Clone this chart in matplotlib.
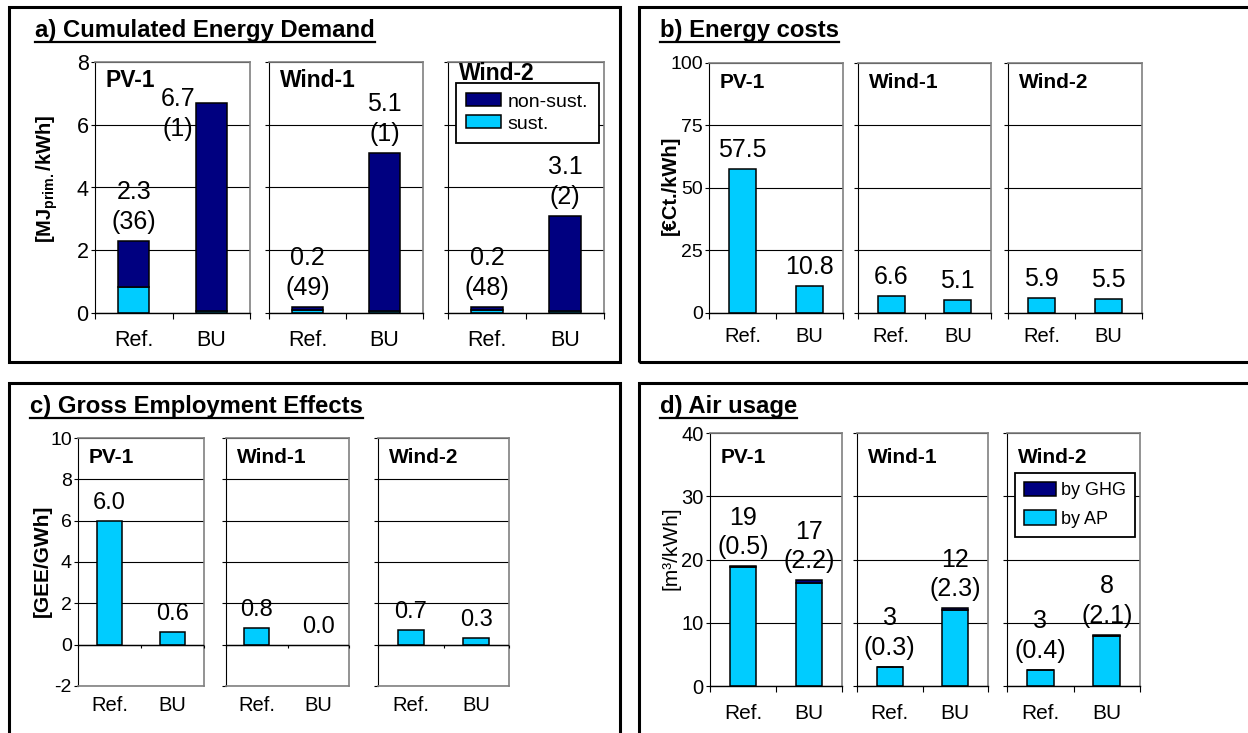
import matplotlib
matplotlib.use('Agg')
import matplotlib.pyplot as plt
from matplotlib.patches import Rectangle, Patch
from matplotlib.lines import Line2D

plt.rcParams['font.family'] = ['Liberation Sans', 'DejaVu Sans']
plt.rcParams['mathtext.fontset'] = 'custom'
plt.rcParams['mathtext.rm'] = 'Liberation Sans'
plt.rcParams['mathtext.bf'] = 'Liberation Sans:bold'
plt.rcParams['axes.unicode_minus'] = False

W, H = 1248, 733

# data: one row per plant, columns Ref. / BU
plants = ['PV-1', 'Wind-1', 'Wind-2']
cases = ['Ref.', 'BU']

ced_total = [[2.3, 6.7], [0.2, 5.1], [0.2, 3.1]]      # MJ_prim./kWh
ced_sust_pct = [[36, 1], [49, 1], [48, 2]]            # share sustainable in %
cost = [[57.5, 10.8], [6.6, 5.1], [5.9, 5.5]]         # EUR-Ct./kWh
gee = [[6.0, 0.6], [0.8, 0.0], [0.7, 0.3]]            # GEE/GWh
air_total = [[18.9, 16.7], [3.0, 12.3], [2.6, 8.1]]   # m3/kWh
air_ghg_pct = [[0.5, 2.2], [0.3, 2.3], [0.4, 2.1]]    # share by GHG in %

CYAN = '#00CCFF'
NAVY = '#000080'
GREY = '#808080'

fig = plt.figure(figsize=(W / 100, H / 100), dpi=100)


def px_axes(l, t, r, b):
    return fig.add_axes([l / W, 1 - b / H, (r - l) / W, (b - t) / H])


def frame(l, t, r, b):
    fig.add_artist(Rectangle((l / W, 1 - b / H), (r - l) / W, (b - t) / H,
                             transform=fig.transFigure, fill=False,
                             edgecolor='black', lw=2.2))


def title(x, y, s, fs):
    t = fig.text(x / W, 1 - y / H, s, fontsize=fs, fontweight='bold',
                 ha='left', va='baseline')
    fig.canvas.draw()
    bb = t.get_window_extent(fig.canvas.get_renderer())
    fig.add_artist(Line2D([bb.x0 / W, bb.x1 / W], [1 - (y + 5) / H] * 2,
                          transform=fig.transFigure, color='black', lw=1.6))


def make_axes(xs, top, bot, ylim, yticks, tick_fs, x_fs, x_pad, name_fs,
              name_dy, zero_inside=False):
    axes = []
    for i, (l, r) in enumerate(xs):
        ax = px_axes(l, top, r, bot)
        ax.set_xlim(-0.5, 1.5)
        ax.set_ylim(*ylim)
        ax.set_yticks(yticks)
        ax.set_axisbelow(True)
        ax.yaxis.grid(True, color='black', lw=0.8)
        for s in ('top', 'right'):
            ax.spines[s].set_color(GREY)
            ax.spines[s].set_linewidth(1.2)
        ax.spines['left'].set_color('black')
        ax.spines['left'].set_linewidth(0.8)
        ax.tick_params(axis='y', direction='out', length=3, width=0.8,
                       pad=1.5, labelsize=tick_fs, labelleft=(i == 0))
        # category labels sit between the tick marks
        ax.set_xticks([-0.5, 0.5, 1.5])
        ax.set_xticks([0, 1], minor=True)
        ax.set_xticklabels([])
        ax.set_xticklabels(cases, minor=True)
        ax.tick_params(axis='x', which='minor', length=0, pad=x_pad,
                       labelsize=x_fs)
        if zero_inside:
            ax.spines['bottom'].set_color(GREY)
            ax.spines['bottom'].set_linewidth(1.2)
            ax.tick_params(axis='x', which='major', length=0)
            ax.axhline(0, color='black', lw=1.0, zorder=2.6)
            ax.vlines([-0.5, 0.5, 1.5], 0, -0.18, color='black', lw=0.8,
                      zorder=2.6, clip_on=False)
        else:
            ax.spines['bottom'].set_color('black')
            ax.spines['bottom'].set_linewidth(1.0)
            ax.tick_params(axis='x', which='major', direction='out',
                           length=4, width=0.8)
        ax.annotate(plants[i], (0, 1), xycoords='axes fraction',
                    xytext=(11, -name_dy[i]), textcoords='offset pixels',
                    fontsize=name_fs, fontweight='bold', va='baseline')
        axes.append(ax)
    return axes


def value_label(ax, x, y, s, fs, dx=0, dy=7, ls=1.3):
    ax.annotate(s, (x, y), xytext=(dx, dy), textcoords='offset pixels',
                ha='center', va='bottom', fontsize=fs, linespacing=ls,
                multialignment='center', zorder=5)


BAR_W = 0.4
EDGE = dict(edgecolor='black', linewidth=1.1)

# ---- a) Cumulated Energy Demand
frame(9, 7, 620, 362)
title(35, 37, 'a) Cumulated Energy Demand', 17.2)
ax_a = make_axes([(95, 250), (269, 423), (448, 604)], 62, 313, (0, 8),
                 range(0, 9, 2), 15.5, 15.5, 12, 16.5, (25, 25, 18))
for i, ax in enumerate(ax_a):
    for j in range(2):
        tot = ced_total[i][j]
        sust = tot * ced_sust_pct[i][j] / 100
        ax.bar(j, sust, BAR_W, color=CYAN, **EDGE)
        ax.bar(j, tot - sust, BAR_W, bottom=sust, color=NAVY, **EDGE)
        lbl = f'{tot:.1f}\n({ced_sust_pct[i][j]:.0f})'
        if i == 0 and j == 1:
            value_label(ax, j, tot, lbl, 18, dx=-33, dy=-38)
        else:
            value_label(ax, j, tot, lbl, 18)
fig.text(47 / W, 1 - 179 / H, r'[MJ$_{\mathbf{prim.}}$/kWh]', rotation=90,
         fontsize=14.5, fontweight='bold', ha='center', va='center')
ax_a[2].legend(handles=[Patch(facecolor=NAVY, **EDGE, label='non-sust.'),
                        Patch(facecolor=CYAN, **EDGE, label='sust.')],
               loc='upper left', bbox_to_anchor=(0.05, 0.918), fontsize=14,
               frameon=True, fancybox=False, edgecolor='black',
               framealpha=1, borderpad=0.55, labelspacing=0.25,
               handlelength=1.8, handleheight=0.65, handletextpad=0.3,
               borderaxespad=0).get_frame().set_linewidth(1.3)

# ---- b) Energy costs
frame(639, 7, 1262, 362)
title(660, 37, 'b) Energy costs', 17.2)
ax_b = make_axes([(709, 843), (858, 991), (1008, 1142)], 63, 313, (0, 100),
                 range(0, 101, 25), 14, 14.5, 10, 15, (25, 25, 25))
for i, ax in enumerate(ax_b):
    for j in range(2):
        ax.bar(j, cost[i][j], BAR_W, color=CYAN, **EDGE)
        value_label(ax, j, cost[i][j], f'{cost[i][j]:.1f}', 18)
fig.text(670 / W, 1 - 185 / H, '[€Ct./kWh]', rotation=90, fontsize=14.5,
         fontweight='bold', ha='center', va='center')

# ---- c) Gross Employment Effects
frame(9, 383, 620, 745)
title(30, 413, 'c) Gross Employment Effects', 17.2)
ax_c = make_axes([(78, 204), (226, 349), (378, 509)], 438, 686, (-2, 10),
                 range(-2, 11, 2), 14, 14.5, 7, 15, (25, 25, 25),
                 zero_inside=True)
for i, ax in enumerate(ax_c):
    for j in range(2):
        if gee[i][j] > 0:
            ax.bar(j, gee[i][j], BAR_W, color=CYAN, **EDGE)
        value_label(ax, j, gee[i][j], f'{gee[i][j]:.1f}', 17)
fig.text(42 / W, 1 - 561 / H, '[GEE/GWh]', rotation=90, fontsize=15,
         fontweight='bold', ha='center', va='center')

# ---- d) Air usage
frame(639, 383, 1262, 745)
title(660, 413, 'd) Air usage', 17.2)
ax_d = make_axes([(710, 842), (857, 988), (1007, 1140)], 433, 686, (0, 40),
                 range(0, 41, 10), 14.5, 15, 13, 15, (30, 30, 30))
for i, ax in enumerate(ax_d):
    for j in range(2):
        tot = air_total[i][j]
        ghg = tot * air_ghg_pct[i][j] / 100
        ax.bar(j, tot - ghg, BAR_W, color=CYAN, **EDGE)
        ax.bar(j, ghg, BAR_W, bottom=tot - ghg, color=NAVY, **EDGE)
        value_label(ax, j, tot, f'{tot:.0f}\n({air_ghg_pct[i][j]:.1f})', 18)
fig.text(671 / W, 1 - 548 / H, '[m³/kWh]', rotation=90, fontsize=15,
         ha='center', va='center')
ax_d[2].legend(handles=[Patch(facecolor=NAVY, **EDGE, label='by GHG'),
                        Patch(facecolor=CYAN, **EDGE, label='by AP')],
               loc='upper left', bbox_to_anchor=(0.06, 0.842), fontsize=13,
               frameon=True, fancybox=False, edgecolor='black',
               framealpha=1, borderpad=0.5, labelspacing=0.6,
               handlelength=1.75, handleheight=0.85, handletextpad=0.3,
               borderaxespad=0).get_frame().set_linewidth(1.3)

fig.savefig('out.png', dpi=100, facecolor='white')
